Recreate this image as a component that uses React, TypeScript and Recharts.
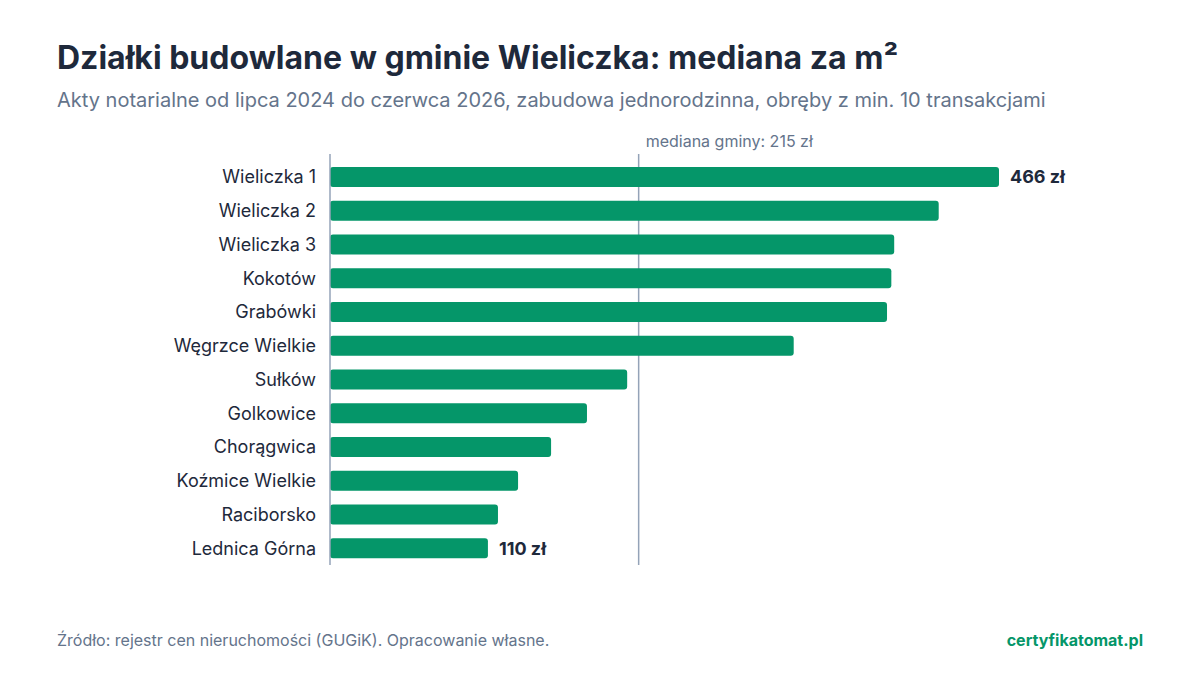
import React from 'react'
import { BarChart, Bar, XAxis, YAxis, ReferenceLine, LabelList } from 'recharts'

// Mediana ceny za m² działek budowlanych w obrębach gminy Wieliczka.
const AREAS: string[] = [
  'Wieliczka 1',
  'Wieliczka 2',
  'Wieliczka 3',
  'Kokotów',
  'Grabówki',
  'Węgrzce Wielkie',
  'Sułków',
  'Golkowice',
  'Chorągwica',
  'Koźmice Wielkie',
  'Raciborsko',
  'Lednica Górna',
]
const MEDIANS: number[] = [466, 424, 393, 391, 388, 323, 207, 179, 154, 131, 117, 110]
const GMINA_MEDIAN = 215

const FONT = 'Inter, "Noto Sans", sans-serif'
const DARK = '#1e293b'
const MUTED = '#64748b'
const GREEN = '#059669'

// only the top and bottom rows get a value label
const DATA = AREAS.map((name, i) => ({
  name,
  value: MEDIANS[i],
  label: i === 0 || i === AREAS.length - 1 ? `${MEDIANS[i]} zł` : '',
}))

function MedianLabel(props: any) {
  const vb = props.viewBox || {}
  return (
    <text x={vb.x + 7} y={vb.y - 7} fill={MUTED} fontSize={16} fontFamily={FONT}>
      {`mediana gminy: ${GMINA_MEDIAN} zł`}
    </text>
  )
}

export default function App() {
  return (
    <div
      style={{
        position: 'fixed',
        left: 0,
        top: 0,
        width: 1200,
        height: 675,
        background: '#fff',
        fontFamily: FONT,
        overflow: 'hidden',
      }}
    >
      <div style={{ position: 'absolute', left: 57, top: 38, fontSize: 32, fontWeight: 700, color: DARK, whiteSpace: 'nowrap' }}>
        Działki budowlane w gminie Wieliczka: mediana za m²
      </div>
      <div style={{ position: 'absolute', left: 57, top: 88, fontSize: 20, color: MUTED, whiteSpace: 'nowrap' }}>
        Akty notarialne od lipca 2024 do czerwca 2026, zabudowa jednorodzinna, obręby z min. 10 transakcjami
      </div>

      <div style={{ position: 'absolute', left: 0, top: 0 }}>
        <BarChart
          width={1200}
          height={675}
          data={DATA}
          layout="vertical"
          margin={{ top: 154, right: 201, bottom: 110, left: 10 }}
          barSize={20}
        >
          <XAxis type="number" domain={[0, 466]} hide />
          <YAxis
            type="category"
            dataKey="name"
            width={320}
            padding={{ top: 6, bottom: 0 }}
            axisLine={{ stroke: '#94a3b8', strokeWidth: 1.5 }}
            tickLine={false}
            tickMargin={8}
            tick={{ fill: DARK, fontSize: 18, fontFamily: FONT }}
            interval={0}
          />
          {/* median line sits behind the bars */}
          <ReferenceLine
            x={GMINA_MEDIAN}
            stroke="#94a3b8"
            strokeWidth={1.5}
            label={<MedianLabel />}
            zIndex={0}
          />
          <Bar dataKey="value" fill={GREEN} radius={3} isAnimationActive={false}>
            <LabelList
              dataKey="label"
              position="right"
              offset={11}
              fill={DARK}
              fontSize={18}
              fontWeight={700}
              fontFamily={FONT}
            />
          </Bar>
        </BarChart>
      </div>

      <div style={{ position: 'absolute', left: 57, top: 630, fontSize: 16, color: MUTED }}>
        Źródło: rejestr cen nieruchomości (GUGiK). Opracowanie własne.
      </div>
      <div style={{ position: 'absolute', right: 57, top: 630, fontSize: 16, fontWeight: 700, color: GREEN }}>
        certyfikatomat.pl
      </div>
    </div>
  )
}
